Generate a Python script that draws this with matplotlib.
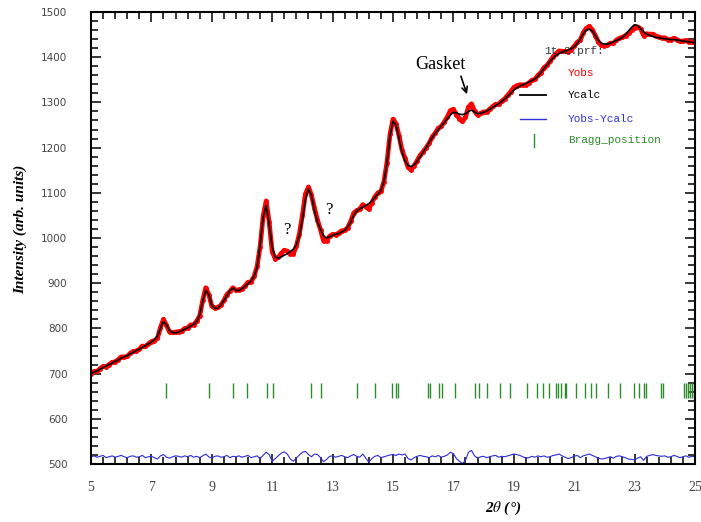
import numpy as np
import matplotlib.pyplot as plt
from matplotlib.ticker import MultipleLocator

plt.rcParams['mathtext.fontset'] = 'stix'

# 2theta grid (0.1 deg step) and calculated profile
theta = np.round(np.arange(50, 251) * 0.1, 1)
ycalc = [700, 703, 706, 710, 713, 717, 720, 723, 727, 730,
         734, 737, 740, 744, 747, 751, 754, 758, 762, 766,
         770, 775, 783, 800, 815, 808, 795, 791, 790, 792,
         795, 798, 801, 805, 809, 815, 830, 860, 884, 875,
         852, 844, 845, 852, 862, 872, 884, 889, 884, 884,
         888, 893, 899, 905, 915, 935, 985, 1045, 1072, 1030,
         980, 958, 955, 958, 962, 965, 970, 975, 985, 1005,
         1040, 1085, 1108, 1095, 1060, 1035, 1020, 1005, 1000, 1003,
         1006, 1008, 1010, 1013, 1017, 1025, 1035, 1050, 1060, 1065,
         1068, 1072, 1076, 1082, 1090, 1097, 1105, 1125, 1165, 1225,
         1258, 1250, 1220, 1190, 1170, 1160, 1158, 1162, 1170, 1180,
         1190, 1200, 1212, 1222, 1232, 1240, 1248, 1256, 1264, 1272,
         1278, 1277, 1274, 1273, 1275, 1280, 1283, 1279, 1275, 1276,
         1278, 1281, 1285, 1289, 1293, 1297, 1302, 1308, 1314, 1320,
         1327, 1332, 1336, 1339, 1342, 1345, 1348, 1352, 1358, 1366,
         1375, 1383, 1391, 1398, 1404, 1408, 1411, 1414, 1416, 1419,
         1423, 1430, 1440, 1452, 1460, 1462, 1458, 1448, 1437, 1431,
         1429, 1429, 1431, 1434, 1437, 1440, 1444, 1450, 1458, 1466,
         1472, 1470, 1463, 1456, 1451, 1448, 1446, 1444, 1443, 1442,
         1441, 1440, 1439, 1439, 1438, 1437, 1436, 1435, 1434, 1433,
         1432]
# Yobs - Ycalc
ydiff = [0, 2, -1, 1, 3, -2, 0, 2, -1, 1,
         3, 0, -2, 1, 2, -1, 0, 3, -2, 0,
         1, -2, -5, 2, 5, -1, -3, 0, 2, 1,
         -1, 2, 0, 3, -1, 1, -2, 2, 6, 0,
         -3, 1, 2, -1, 0, 3, -2, 1, 0, 2,
         -1, 1, 3, -2, 0, 2, -4, 3, 10, 5,
         -10, -4, 2, 8, 11, 6, -5, -10, -3, 4,
         10, 12, 5, 0, 6, 5, -2, -11, -6, 1,
         2, -1, 1, 3, 0, -2, 2, 5, 1, -1,
         6, -3, -12, -4, 1, 3, -2, 0, 2, 4,
         5, 3, 6, 4, 6, -4, -7, -2, 1, 3,
         1, 0, -2, 2, 0, 3, -1, 1, 4, 10,
         7, -4, -10, -15, -8, 10, 14, 2, -3, 0,
         1, -2, 0, 2, 3, -1, 1, 0, 2, 4,
         6, 5, 3, 0, -3, -2, 1, -1, 2, 0,
         2, -1, 0, 3, 4, 6, 2, -1, -4, -2,
         1, 3, -2, 2, 4, 6, 3, 0, -3, -5,
         -4, -2, 0, -3, 1, 2, 0, -2, -5, -6,
         -7, -3, 0, -8, 1, 3, 5, 3, 2, 1,
         2, -1, 0, 3, 1, -2, 0, 2, -1, 1,
         0]
diff_offset = 516
bragg = [7.48, 8.91, 9.69, 10.16, 10.84, 11.02, 12.27, 12.61, 13.82, 14.40,
         14.96, 15.10, 15.17, 16.17, 16.21, 16.53, 16.63, 17.05, 17.72, 17.86,
         18.10, 18.54, 18.87, 19.43, 19.76, 19.96, 20.18, 20.39, 20.48, 20.56,
         20.68, 20.72, 21.06, 21.36, 21.55, 21.72, 22.11, 22.52, 22.98, 23.15,
         23.32, 23.38, 23.87, 23.93, 24.64, 24.70, 24.77, 24.83, 24.91, 24.97]

ycalc = np.array(ycalc)
ydiff = np.array(ydiff)
yobs = ycalc + ydiff

fig = plt.figure(figsize=(7.01, 5.22), dpi=100)
ax = fig.add_axes([0.1298, 0.1111, 0.8616, 0.8659])

ax.plot(theta, yobs, color='red', lw=3.4, solid_joinstyle='round')
ax.plot(theta, yobs, 'o', color='red', ms=2.5)
ax.plot(theta, ycalc, color='black', lw=1.2)
ax.plot(theta, ydiff + diff_offset, color='#2b2bdc', lw=0.8)
ax.vlines(bragg, 646, 679, color='#2e8b2e', lw=1)

ax.set_xlim(5, 25)
ax.set_ylim(500, 1500)
ax.xaxis.set_major_locator(MultipleLocator(2, offset=1))
ax.xaxis.set_minor_locator(MultipleLocator(0.4, offset=0.2))
ax.yaxis.set_major_locator(MultipleLocator(100))
ax.yaxis.set_minor_locator(MultipleLocator(20))
ax.tick_params(which='both', direction='in', top=True, right=True, width=1.1, color='black')
ax.tick_params(which='major', length=7)
ax.tick_params(which='minor', length=5)
ax.tick_params(axis='x', pad=12, labelcolor='#444444', labelsize=10)
ax.tick_params(axis='y', pad=17, labelcolor='#444444', labelsize=7.5)
for lab in ax.get_xticklabels():
    lab.set_family('Liberation Serif')
for sp in ax.spines.values():
    sp.set_linewidth(1.5)

ax.set_ylabel('Intensity (arb. units)', family='Liberation Serif', weight='bold',
              style='italic', fontsize=11)
ax.yaxis.set_label_coords(-0.105, 0.52)
ax.set_xlabel(r'2$\theta$ (°)', family='Liberation Serif', weight='bold',
              style='italic', fontsize=11)
ax.xaxis.set_label_coords(0.682, -0.078)

# legend in the FullProf style
mono = dict(family='Liberation Mono', fontsize=8)
ax.text(0.75, 0.914, '1t-2.prf:', color='#333333', va='center', transform=ax.transAxes, **mono)
ax.text(0.79, 0.865, 'Yobs', color='red', va='center', transform=ax.transAxes, **mono)
ax.text(0.79, 0.817, 'Ycalc', color='black', va='center', transform=ax.transAxes, **mono)
ax.text(0.79, 0.764, 'Yobs-Ycalc', color='#3333dd', va='center', transform=ax.transAxes, **mono)
ax.text(0.79, 0.716, 'Bragg_position', color='#2e8b2e', va='center', transform=ax.transAxes, **mono)
ax.plot([0.71, 0.753], [0.817, 0.817], color='black', lw=1.3, transform=ax.transAxes)
ax.plot([0.71, 0.753], [0.764, 0.764], color='#3333dd', lw=1, transform=ax.transAxes)
ax.plot([0.733, 0.733], [0.702, 0.731], color='#2e8b2e', lw=1, transform=ax.transAxes)

ax.text(16.56, 1383, 'Gasket', ha='center', va='center', family='Liberation Serif', fontsize=13)
ax.annotate('', xy=(17.45, 1318), xytext=(17.25, 1358),
            arrowprops=dict(arrowstyle='->', color='black', lw=1.2, shrinkA=0, shrinkB=0))
ax.text(11.48, 1018, '?', ha='center', va='center', family='Liberation Serif', fontsize=12)
ax.text(12.88, 1063, '?', ha='center', va='center', family='Liberation Serif', fontsize=12)

fig.savefig('out.png', dpi=100)
